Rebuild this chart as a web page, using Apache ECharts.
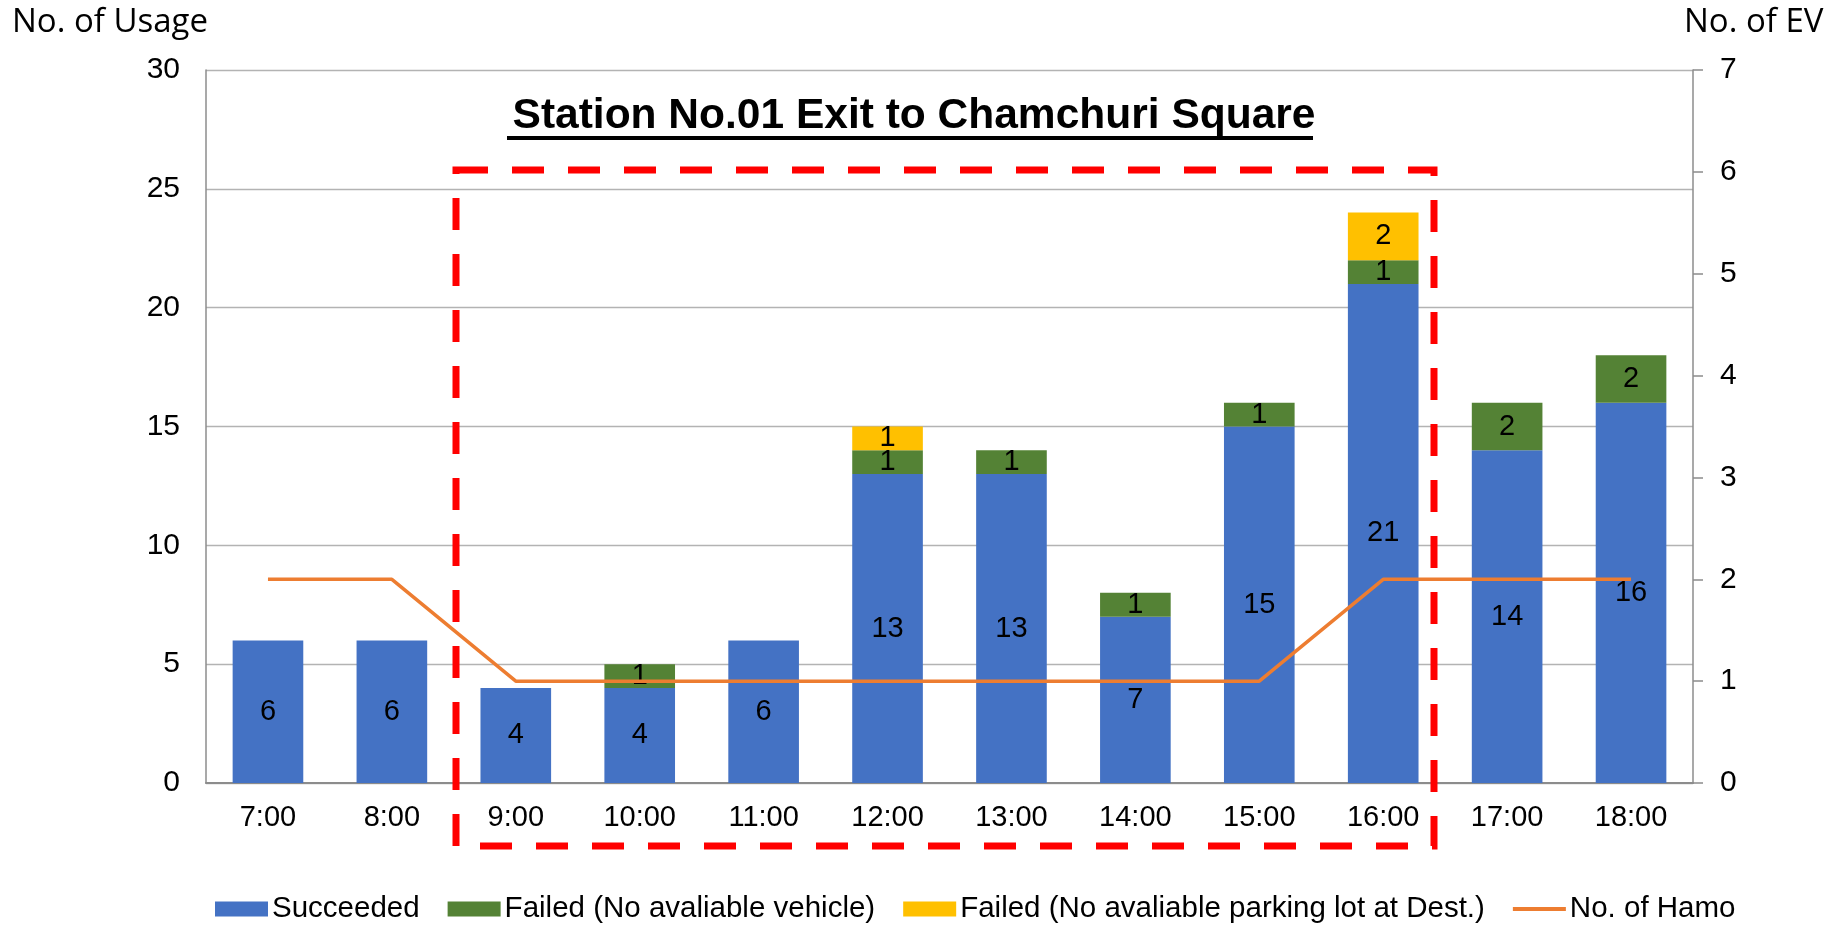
<!DOCTYPE html>
<html>
<head>
<meta charset="utf-8">
<script src="https://cdn.jsdelivr.net/npm/echarts@6/dist/echarts.min.js"></script>
<style>
html,body{margin:0;padding:0;background:#fff;}
#chart{width:1843px;height:925px;}
</style>
</head>
<body>
<div id="chart"></div>
<script>
const categories = ['7:00','8:00','9:00','10:00','11:00','12:00','13:00','14:00','15:00','16:00','17:00','18:00'];
const succeeded = [6,6,4,4,6,13,13,7,15,21,14,16];
const failedNoVehicle = [0,0,0,1,0,1,1,1,1,1,2,2];
const failedNoParking = [0,0,0,0,0,1,0,0,0,2,0,0];
const hamoCount = [2,2,1,1,1,1,1,1,1,2,2,2];
const leftTicks = {min:0, max:30, interval:5};
const rightTicks = {min:0, max:7, interval:1};
const titleText = 'Station No.01 Exit to Chamchuri Square';
const seriesNames = ['Succeeded','Failed (No avaliable vehicle)','Failed (No avaliable parking lot at Dest.)','No. of Hamo'];

const FONT = '"Liberation Sans", Arial, sans-serif';
const AX = '#8C8C8C';
const labelCfg = {
  show: true, position: 'inside', color: '#000', fontSize: 29, fontFamily: FONT,
  formatter: p => (p.value ? String(p.value) : '')
};

const chart = echarts.init(document.getElementById('chart'), null, {renderer:'canvas'});
const option = {
  animation: false,
  backgroundColor: '#fff',
  title: {
    text: titleText, left: 909, top: 90, textAlign: 'center',
    textStyle: {fontFamily: FONT, fontWeight: 'bold', fontSize: 42.5, color: '#000'}
  },
  grid: {left: 206, right: 150, top: 70, bottom: 142, containLabel: false},
  legend: {
    left: 215, top: 894, padding: 0, itemWidth: 53, itemHeight: 15, itemGap: 28,
    textStyle: {fontFamily: FONT, fontSize: 29.5, color: '#000', padding: [0,0,0,-1]},
    data: [
      {name: seriesNames[0], icon: 'rect'},
      {name: seriesNames[1], icon: 'rect'},
      {name: seriesNames[2], icon: 'rect'},
      {name: seriesNames[3], icon: 'path://M0,0 M0,5.5 L53,5.5 L53,9.5 L0,9.5 Z M53,15'}
    ]
  },
  xAxis: {
    type: 'category', data: categories,
    axisLine: {lineStyle: {color: AX, width: 2}},
    axisTick: {show: false},
    axisLabel: {fontFamily: FONT, fontSize: 29, color: '#000', margin: 20}
  },
  yAxis: [
    {
      type: 'value', min: leftTicks.min, max: leftTicks.max, interval: leftTicks.interval,
      axisLine: {show: true, lineStyle: {color: AX, width: 1.5}},
      axisTick: {show: false},
      splitLine: {lineStyle: {color: '#B3B3B3', width: 1.3}},
      axisLabel: {fontFamily: FONT, fontSize: 30, color: '#000', margin: 26}
    },
    {
      type: 'value', min: rightTicks.min, max: rightTicks.max, interval: rightTicks.interval,
      position: 'right',
      axisLine: {show: true, lineStyle: {color: AX, width: 1.5}},
      axisTick: {show: true, length: 10, lineStyle: {color: AX, width: 1.5}},
      splitLine: {show: false},
      axisLabel: {fontFamily: FONT, fontSize: 30, color: '#000', margin: 27}
    }
  ],
  series: [
    {name: seriesNames[0], type: 'bar', stack: 'u', data: succeeded, barCategoryGap: '43%',
     itemStyle: {color: '#4472C4'}, label: labelCfg},
    {name: seriesNames[1], type: 'bar', stack: 'u', data: failedNoVehicle,
     itemStyle: {color: '#548235'}, label: labelCfg},
    {name: seriesNames[2], type: 'bar', stack: 'u', data: failedNoParking,
     itemStyle: {color: '#FFC000'}, label: labelCfg},
    {name: seriesNames[3], type: 'line', yAxisIndex: 1, data: hamoCount,
     symbol: 'none', showSymbol: false, z: 5,
     lineStyle: {color: '#ED7D31', width: 3.5}, itemStyle: {color: '#ED7D31'}}
  ],
  graphic: [
    {type: 'text', left: 12, top: 6, style: {text: 'No. of Usage', font: '33px "Open Sans", sans-serif', fill: '#000'}},
    {type: 'text', left: 1684, top: 6, style: {text: 'No. of EV', font: '33px "Open Sans", sans-serif', fill: '#000'}},
    {type: 'line', shape: {x1: 507, y1: 138, x2: 1313, y2: 138}, style: {stroke: '#000', lineWidth: 4}},
    {type: 'rect', z: 100, shape: {x: 456, y: 170, width: 978, height: 676},
     style: {fill: 'none', stroke: '#FF0000', lineWidth: 7, lineDash: [32, 24]}}
  ]
};
chart.setOption(option);
</script>
</body>
</html>
